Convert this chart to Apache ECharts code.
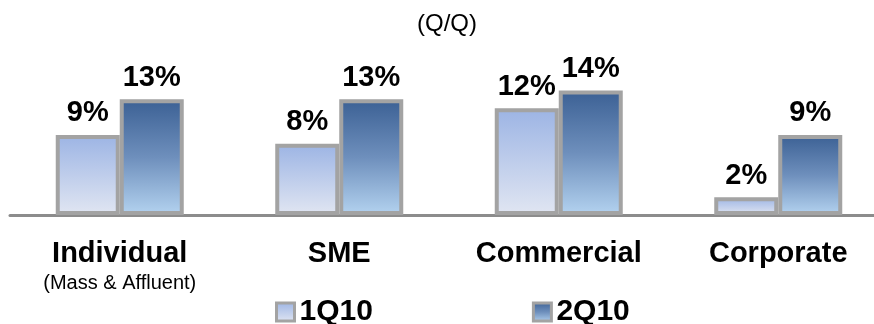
<!DOCTYPE html>
<html>
<head>
<meta charset="utf-8">
<script src="https://cdn.jsdelivr.net/npm/echarts@6/dist/echarts.min.js"></script>
<style>
  html, body { margin: 0; padding: 0; background: #ffffff; }
  #chart { width: 874px; height: 324px; }
</style>
</head>
<body>
<div id="chart"></div>
<script>
// Segment growth, quarter on quarter
const categories = ['Individual', 'SME', 'Commercial', 'Corporate'];
const subLabels = ['(Mass & Affluent)', '', '', ''];
const seriesNames = ['1Q10', '2Q10'];
const q1Values = [9, 8, 12, 2];
const q2Values = [13, 13, 14, 9];
const titleText = '(Q/Q)';

const FONT = '"Liberation Sans", Arial, sans-serif';
const BORDER = '#a3a3a3';

const fill1 = new echarts.graphic.LinearGradient(0, 0, 0, 1, [
  { offset: 0, color: '#9cb4e4' },
  { offset: 1, color: '#e1e6f2' }
]);
const fill2 = new echarts.graphic.LinearGradient(0, 0, 0, 1, [
  { offset: 0, color: '#3b6094' },
  { offset: 0.5, color: '#6e8fbc' },
  { offset: 1, color: '#b4d3f0' }
]);

function barSeries(name, values, fill) {
  return {
    name: name,
    type: 'bar',
    data: values,
    barWidth: 64,
    barGap: '0%',
    itemStyle: { color: fill, borderColor: BORDER, borderWidth: 4 },
    label: {
      show: true,
      position: 'top',
      distance: 7,
      formatter: '{c}%',
      fontFamily: FONT,
      fontSize: 29,
      fontWeight: 'bold',
      color: '#000000'
    }
  };
}

const chart = echarts.init(document.getElementById('chart'), null, { renderer: 'canvas' });
chart.setOption({
  animation: false,
  backgroundColor: '#ffffff',
  title: {
    text: titleText,
    left: 417,
    top: 12,
    padding: 0,
    textStyle: { fontFamily: FONT, fontSize: 24, fontWeight: 'normal', color: '#000000' }
  },
  legend: {
    data: seriesNames,
    left: 275,
    top: 297,
    padding: 0,
    itemWidth: 18,
    itemHeight: 18,
    itemGap: 159,
    icon: 'rect',
    itemStyle: { borderWidth: 3, borderColor: BORDER },
    textStyle: { fontFamily: FONT, fontSize: 30, fontWeight: 'bold', color: '#000000' }
  },
  // the axis runs on past the right edge, so the plot is allowed to overflow
  grid: { left: 10, width: 878, top: 37, bottom: 109, outerBoundsMode: 'none', containLabel: false },
  xAxis: {
    type: 'category',
    data: categories,
    axisLine: { show: true, lineStyle: { color: '#8c8c8c', width: 3 } },
    axisTick: { show: false },
    axisLabel: {
      margin: 23,
      interval: 0,
      formatter: function (v, i) {
        return subLabels[i] ? '{a|' + v + '}\n{b|' + subLabels[i] + '}' : '{a|' + v + '}';
      },
      rich: {
        a: { fontFamily: FONT, fontSize: 29, fontWeight: 'bold', color: '#000000', lineHeight: 31 },
        b: { fontFamily: FONT, fontSize: 20, color: '#000000', lineHeight: 28 }
      }
    }
  },
  yAxis: {
    type: 'value',
    min: 0,
    max: 20,
    show: false,
    splitLine: { show: false }
  },
  series: [
    barSeries(seriesNames[0], q1Values, fill1),
    barSeries(seriesNames[1], q2Values, fill2)
  ]
});
</script>
</body>
</html>
